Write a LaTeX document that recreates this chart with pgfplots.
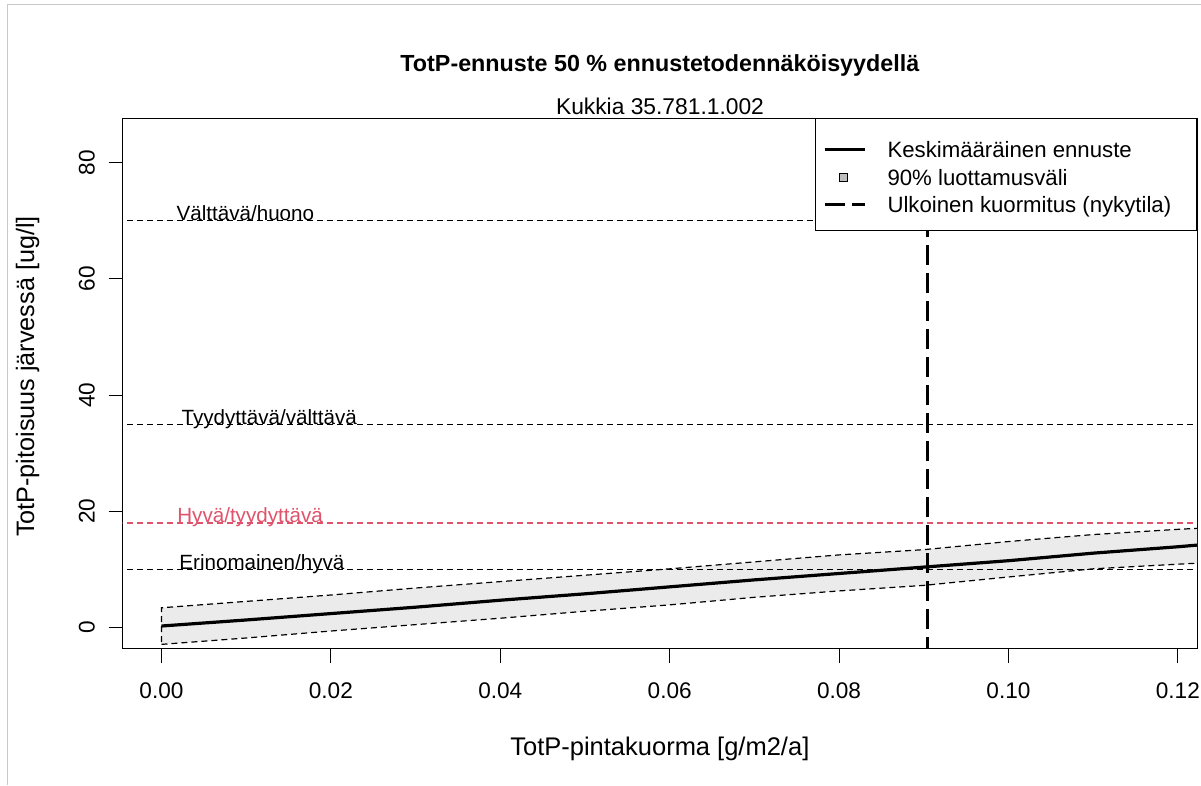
\documentclass[border=0pt]{standalone}
\usepackage{fontspec}
\setmainfont{Liberation Sans}
\usepackage{pgfplots}
\pgfplotsset{compat=1.18}
\definecolor{hyvared}{HTML}{DF536B}
\definecolor{bandgray}{HTML}{EBEBEB}
\definecolor{leggray}{HTML}{BEBEBE}
\definecolor{framegray}{HTML}{C8C8C8}
\begin{document}
\begin{tikzpicture}
\useasboundingbox (0pt,0pt) rectangle (1201pt,785pt);
\fill[white] (0pt,0pt) rectangle (1201pt,785pt);
\draw[framegray, line width=1.5pt] (7.5pt,0pt) -- (7.5pt,780.7pt) -- (1201pt,780.7pt);
\begin{axis}[
  at={(122.7pt,136.5pt)}, anchor=south west,
  scale only axis, width=1074.3pt, height=530.2pt,
  xmin=-0.00458, xmax=0.12226, ymin=-3.61, ymax=87.64,
  axis line style={line width=1pt, black},
  xtick={0,0.02,0.04,0.06,0.08,0.1,0.12},
  ytick={0,20,40,60,80},
  scaled x ticks=false,
  tick align=outside, major tick length=14pt,
  tick style={line width=1pt, black},
  xtick pos=left, ytick pos=left,
  /pgf/number format/assume math mode=true,
  tick label style={font=\fontsize{22.6}{27}\selectfont},
  xticklabel style={/pgf/number format/fixed, /pgf/number format/fixed zerofill,
    /pgf/number format/precision=2, anchor=base, yshift=-35.5pt},
  yticklabel style={xshift=-14pt, rotate=90, anchor=base},
  title={TotP-ennuste 50 \% ennustetodennäköisyydellä},
  title style={at={(axis description cs:0.5,1)}, anchor=base, yshift=40.8pt,
    font=\bfseries\fontsize{23.3}{28}\selectfont},
  xlabel={TotP-pintakuorma [g/m2/a]},
  xlabel style={at={(axis description cs:0.5,0)}, anchor=base, yshift=-106.5pt,
    font=\fontsize{25.5}{30}\selectfont},
  ylabel={TotP-pitoisuus järvessä [ug/l]},
  ylabel style={at={([xshift=-88.7pt]axis description cs:0,0.513)}, anchor=base,
    font=\fontsize{25.2}{30}\selectfont},
  legend style={at={(1,1)}, anchor=north east, draw=black, line width=1pt, fill=white,
    inner xsep=8pt, inner ysep=14.4pt, row sep=0pt, column sep=0pt,
    font=\fontsize{22.2}{27}\selectfont,
    nodes={inner sep=0pt, text height=24.3pt, text depth=3.3pt, anchor=base west}},
  legend cell align=left,
]
% 90% band
\addplot[forget plot, fill=bandgray, draw=black, line width=1.2pt, dash pattern=on 6pt off 4pt]
  coordinates {(0,-2.9) (0.01,-1.8) (0.02,-0.6) (0.03,0.5) (0.04,1.6) (0.05,2.8) (0.06,3.9)
  (0.07,5.2) (0.08,6.3) (0.09,7.25) (0.10,8.7) (0.11,10.1) (0.12,10.9) (0.124,11.2)
  (0.124,17.2) (0.12,16.9) (0.11,16.0) (0.10,14.8) (0.09,13.4) (0.08,12.5) (0.07,11.3)
  (0.06,10.1) (0.05,9.0) (0.04,7.9) (0.03,6.8) (0.02,5.6) (0.01,4.5) (0,3.4)} -- cycle;
% class limits
\addplot[forget plot, black, line width=1.2pt, dash pattern=on 6pt off 4pt] coordinates {(-0.01,70) (0.13,70)};
\addplot[forget plot, black, line width=1.2pt, dash pattern=on 6pt off 4pt] coordinates {(-0.01,35) (0.13,35)};
\addplot[forget plot, hyvared, line width=1.2pt, dash pattern=on 6pt off 4pt] coordinates {(-0.01,18) (0.13,18)};
\addplot[forget plot, black, line width=1.2pt, dash pattern=on 6pt off 4pt] coordinates {(-0.01,10) (0.13,10)};
% mean
\addplot[forget plot, black, line width=3.2pt]
  coordinates {(0,0.26) (0.01,1.3) (0.02,2.4) (0.03,3.5) (0.04,4.7) (0.05,5.8) (0.06,7.0)
  (0.07,8.2) (0.08,9.3) (0.09,10.4) (0.10,11.5) (0.11,12.8) (0.12,13.9) (0.124,14.4)};
% current load
\addplot[forget plot, black, line width=3pt, dash pattern=on 20pt off 8pt]
  coordinates {(0.0904,-5) (0.0904,90)};
\node[anchor=base west, font=\fontsize{20.6}{24}\selectfont, inner sep=0pt] at (axis cs:0.00177,70) {Välttävä/huono};
\node[anchor=base west, font=\fontsize{20.6}{24}\selectfont, inner sep=0pt] at (axis cs:0.00236,35) {Tyydyttävä/välttävä};
\node[anchor=base west, font=\fontsize{20.6}{24}\selectfont, inner sep=0pt, text=hyvared] at (axis cs:0.00185,18) {Hyvä/tyydyttävä};
\node[anchor=base west, font=\fontsize{20.6}{24}\selectfont, inner sep=0pt] at (axis cs:0.0021,10) {Erinomainen/hyvä};
\addlegendimage{legend image code/.code={\path[draw=none,fill=none] (0pt,-3.3pt) rectangle (63pt,24.3pt); \draw[line width=2.7pt] (0pt,8pt) -- (40pt,8pt);}}
\addlegendentry{Keskimääräinen ennuste}
\addlegendimage{legend image code/.code={\path[draw=none,fill=none] (0pt,-3.3pt) rectangle (63pt,24.3pt); \draw[fill=leggray, line width=1pt] (14.5pt,4pt) rectangle (22.5pt,12pt);}}
\addlegendentry{90\% luottamusväli}
\addlegendimage{legend image code/.code={\path[draw=none,fill=none] (0pt,-3.3pt) rectangle (63pt,24.3pt); \draw[line width=3pt, dash pattern=on 20pt off 7pt] (0pt,8pt) -- (40pt,8pt);}}
\addlegendentry{\makebox[301pt][l]{Ulkoinen kuormitus (nykytila)}}
\end{axis}
\node[anchor=base, font=\fontsize{22.8}{27}\selectfont, inner sep=0pt] at (660pt,670pt) {Kukkia 35.781.1.002};
\end{tikzpicture}
\end{document}
